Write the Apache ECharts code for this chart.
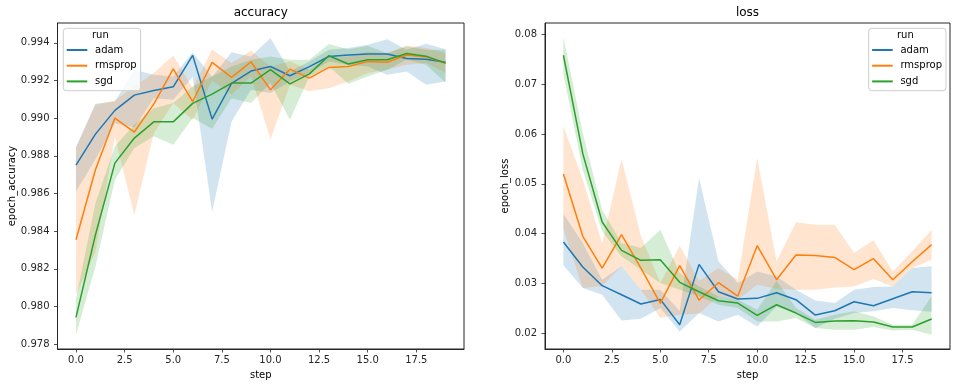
<!DOCTYPE html>
<html>
<head>
<meta charset="utf-8">
<script src="https://cdn.jsdelivr.net/npm/echarts@6/dist/echarts.min.js"></script>
<style>
html,body{margin:0;padding:0;background:#fff;}
#chart{width:957px;height:387px;}
</style>
</head>
<body>
<div id="chart"></div>
<script>
var steps = [0,1,2,3,4,5,6,7,8,9,10,11,12,13,14,15,16,17,18,19];
var runs = ['adam','rmsprop','sgd'];
var xTicks = [0,2.5,5,7.5,10,12.5,15,17.5];
var accTicks = [0.978,0.980,0.982,0.984,0.986,0.988,0.990,0.992,0.994];
var lossTicks = [0.02,0.03,0.04,0.05,0.06,0.07,0.08];

// accuracy
var accAdamMean = [0.98750,0.98915,0.99041,0.99122,0.99147,0.99166,0.99333,0.98995,0.99184,0.99250,0.99274,0.99225,0.99273,0.99327,0.99335,0.99340,0.99340,0.99317,0.99313,0.99296];
var accAdamLo   = [0.98610,0.98780,0.98973,0.98950,0.99106,0.99097,0.99220,0.98503,0.98982,0.99150,0.99133,0.99195,0.99239,0.99301,0.99283,0.99274,0.99230,0.99248,0.99177,0.99195];
var accAdamHi   = [0.98846,0.99076,0.99088,0.99257,0.99230,0.99221,0.99349,0.99220,0.99350,0.99327,0.99425,0.99248,0.99300,0.99363,0.99372,0.99389,0.99419,0.99363,0.99395,0.99366];
var accRmsMean  = [0.98354,0.98726,0.99000,0.98926,0.99074,0.99262,0.99088,0.99296,0.99216,0.99299,0.99150,0.99260,0.99212,0.99269,0.99274,0.99301,0.99297,0.99335,0.99326,0.99292];
var accRmsLo    = [0.98062,0.98290,0.98902,0.98484,0.98920,0.99080,0.98990,0.99200,0.99124,0.99221,0.98888,0.99177,0.99142,0.99159,0.99195,0.99239,0.99257,0.99283,0.99292,0.99239];
var accRmsHi    = [0.98842,0.99071,0.99094,0.99168,0.99239,0.99333,0.99160,0.99364,0.99292,0.99358,0.99274,0.99300,0.99257,0.99319,0.99327,0.99354,0.99345,0.99386,0.99372,0.99345];
var accSgdMean  = [0.97942,0.98380,0.98761,0.98894,0.98980,0.98980,0.99078,0.99127,0.99186,0.99186,0.99257,0.99182,0.99235,0.99331,0.99287,0.99310,0.99310,0.99343,0.99329,0.99292];
var accSgdLo    = [0.97850,0.98212,0.98673,0.98841,0.98903,0.98858,0.99000,0.98944,0.99106,0.99080,0.99186,0.98991,0.99221,0.99274,0.99182,0.99221,0.99257,0.99310,0.99283,0.99189];
var accSgdHi    = [0.98040,0.98549,0.98850,0.98965,0.99053,0.99080,0.99168,0.99221,0.99274,0.99310,0.99327,0.99310,0.99310,0.99393,0.99366,0.99384,0.99345,0.99380,0.99363,0.99363];

// loss
var lossAdamMean = [0.03832,0.03330,0.02956,0.02775,0.02588,0.02681,0.02173,0.03384,0.02835,0.02688,0.02702,0.02815,0.02675,0.02367,0.02454,0.02635,0.02554,0.02695,0.02835,0.02815];
var lossAdamLo   = [0.03364,0.02909,0.02775,0.02260,0.02293,0.02508,0.02039,0.02410,0.02240,0.02374,0.02139,0.02541,0.02407,0.02106,0.02293,0.02407,0.02441,0.02508,0.02461,0.02434];
var lossAdamHi   = [0.04394,0.03812,0.03076,0.03344,0.02875,0.02875,0.02450,0.05117,0.03444,0.03009,0.03243,0.03143,0.02875,0.02661,0.02608,0.02875,0.02929,0.02942,0.03310,0.03344];
var lossRmsMean  = [0.05197,0.03946,0.03310,0.03980,0.03310,0.02601,0.03357,0.02668,0.03016,0.02748,0.03759,0.03076,0.03571,0.03564,0.03524,0.03277,0.03498,0.03076,0.03437,0.03779];
var lossRmsLo    = [0.04100,0.02909,0.02950,0.03344,0.02875,0.02307,0.02374,0.02400,0.02742,0.02675,0.02976,0.02896,0.02875,0.02875,0.02922,0.02942,0.03090,0.02942,0.03310,0.03478];
var lossRmsHi    = [0.06154,0.05083,0.03800,0.05500,0.03946,0.03009,0.03759,0.03050,0.03310,0.03076,0.05518,0.03444,0.04227,0.04180,0.04180,0.03611,0.03866,0.03243,0.03645,0.04080];
var lossSgdMean  = [0.07579,0.05605,0.04234,0.03665,0.03464,0.03478,0.03023,0.02835,0.02655,0.02608,0.02360,0.02574,0.02407,0.02220,0.02247,0.02253,0.02227,0.02126,0.02126,0.02287];
var lossSgdLo    = [0.07191,0.05284,0.04046,0.03544,0.03277,0.03009,0.02875,0.02742,0.02574,0.02508,0.02240,0.02240,0.02307,0.02106,0.02073,0.02073,0.02126,0.02059,0.02073,0.01972];
var lossSgdHi    = [0.07946,0.06020,0.04481,0.03812,0.03712,0.04080,0.03210,0.02942,0.02742,0.02675,0.02474,0.03050,0.02508,0.02273,0.02374,0.02441,0.02340,0.02173,0.02173,0.02742];

var colors = ['#1f77b4','#ff7f0e','#2ca02c'];
var FONT = 'DejaVu Sans';

var panels = [
  {mean:[accAdamMean,accRmsMean,accSgdMean], lo:[accAdamLo,accRmsLo,accSgdLo], hi:[accAdamHi,accRmsHi,accSgdHi]},
  {mean:[lossAdamMean,lossRmsMean,lossSgdMean], lo:[lossAdamLo,lossRmsLo,lossSgdLo], hi:[lossAdamHi,lossRmsHi,lossSgdHi]}
];

function bandRender(color){
  return function(params, api){
    if (params.dataIndexInside !== 0) return;
    var n = params.dataInsideLength;
    var upper = [], lower = [];
    for (var i = 0; i < n; i++){
      upper.push(api.coord([api.value(0, i), api.value(2, i)]));
      lower.push(api.coord([api.value(0, i), api.value(1, i)]));
    }
    var pts = upper.concat(lower.reverse());
    return {type:'polygon', shape:{points:pts}, style:{fill:color, opacity:0.2, stroke:null}};
  };
}

var series = [];
panels.forEach(function(p, gi){
  runs.forEach(function(r, ri){
    series.push({
      type:'custom', name: r + '_band' + gi, xAxisIndex:gi, yAxisIndex:gi,
      data: steps.map(function(s,i){return [s, p.lo[ri][i], p.hi[ri][i]];}),
      encode:{x:0, y:[1,2]}, silent:true, z:1,
      renderItem: bandRender(colors[ri])
    });
  });
  runs.forEach(function(r, ri){
    series.push({
      type:'line', name:r, xAxisIndex:gi, yAxisIndex:gi,
      data: steps.map(function(s,i){return [s, p.mean[ri][i]];}),
      symbol:'none', color:colors[ri], lineStyle:{width:1.5, color:colors[ri]}, z:3
    });
  });
});

function xAxisDef(gi){
  return {
    type:'value', gridIndex:gi, min:-0.95, max:19.95,
    name:'step', nameLocation:'middle', nameGap:21,
    nameTextStyle:{fontFamily:FONT, fontSize:10, color:'#000'},
    axisLine:{show:true, onZero:false, lineStyle:{color:'#262626', width:1}},
    axisTick:{show:true, length:3.5, inside:false, customValues:xTicks, lineStyle:{color:'#262626', width:0.8}},
    axisLabel:{customValues:xTicks, margin:6, fontFamily:FONT, fontSize:10, color:'#262626',
      formatter:function(v){return v.toFixed(1);}},
    splitLine:{show:false}
  };
}
function yAxisDef(gi, mn, mx, ticks, dec, name, gap){
  return {
    type:'value', gridIndex:gi, min:mn, max:mx,
    name:name, nameLocation:'middle', nameGap:gap, nameRotate:90,
    nameTextStyle:{fontFamily:FONT, fontSize:10, color:'#000'},
    axisLine:{show:true, onZero:false, lineStyle:{color:'#262626', width:1}},
    axisTick:{show:true, length:3.5, customValues:ticks, lineStyle:{color:'#262626', width:0.8}},
    axisLabel:{customValues:ticks, margin:8, fontFamily:FONT, fontSize:10, color:'#262626',
      formatter:function(v){return v.toFixed(dec);}},
    splitLine:{show:false}
  };
}
function legendDef(left){
  return {
    data:runs, orient:'vertical', left:left, top:28.3, selectedMode:false,
    icon:'rect', itemWidth:20.6, itemHeight:2, itemGap:3.7,
    padding:[15.7,4,3.3,3.4],
    backgroundColor:'rgba(255,255,255,0.8)', borderColor:'#cccccc', borderWidth:1, borderRadius:3,
    textStyle:{fontFamily:FONT, fontSize:10, color:'#000', lineHeight:12, padding:[0,0,0,2.7]}
  };
}

var option = {
  backgroundColor:'#fff',
  animation:false,
  title:[
    {text:'accuracy', left:260.7, top:7, textAlign:'center', padding:0,
     textStyle:{fontFamily:FONT, fontSize:12, fontWeight:'normal', color:'#000'}},
    {text:'loss', left:747.5, top:7, textAlign:'center', padding:0,
     textStyle:{fontFamily:FONT, fontSize:12, fontWeight:'normal', color:'#000'}}
  ],
  grid:[
    {left:57.5, top:23, width:406.5, height:326, show:true, borderColor:'#262626', borderWidth:1, backgroundColor:'transparent'},
    {left:545, top:23, width:405, height:326, show:true, borderColor:'#262626', borderWidth:1, backgroundColor:'transparent'}
  ],
  xAxis:[xAxisDef(0), xAxisDef(1)],
  yAxis:[
    yAxisDef(0, 0.97774, 0.99505, accTicks, 3, 'epoch_accuracy', 40),
    yAxisDef(1, 0.01686, 0.08226, lossTicks, 2, 'epoch_loss', 34)
  ],
  legend:[legendDef(63.3), legendDef(868.7)],
  graphic:[
    {type:'text', left:92, top:30.5, z:100, style:{text:'run', fontFamily:FONT, fontSize:10, fill:'#000'}},
    {type:'text', left:897, top:30, z:100, style:{text:'run', fontFamily:FONT, fontSize:10, fill:'#000'}}
  ],
  series:series
};

var chart = echarts.init(document.getElementById('chart'), null, {renderer:'canvas'});
chart.setOption(option);
</script>
</body>
</html>
